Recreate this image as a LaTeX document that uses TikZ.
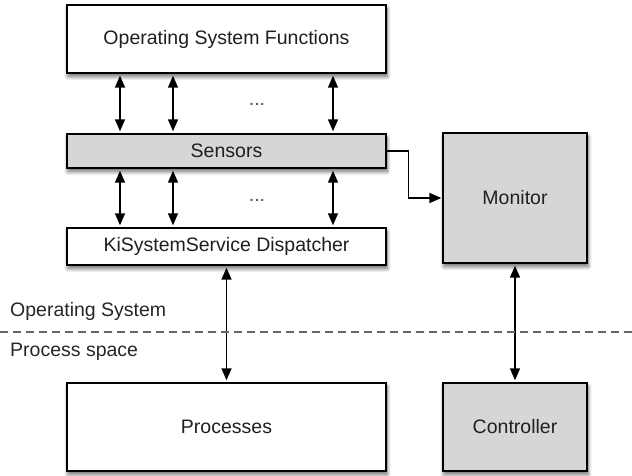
\documentclass[tikz,border=0pt]{standalone}
\usepackage{fontspec}
\setmainfont{Liberation Sans}
\usetikzlibrary{arrows.meta,shadows.blur}
\definecolor{boxgray}{HTML}{D6D6D6}
\begin{document}
\begin{tikzpicture}[x=1pt,y=-1pt,
  font=\fontsize{19.5}{23}\selectfont,
  box/.style={draw=black, line width=1.4pt, fill=white, inner sep=0pt, text=black!88,
    blur shadow={shadow xshift=1pt, shadow yshift=-3.5pt, shadow blur steps=8, shadow opacity=60, shadow blur radius=4pt}},
  graybox/.style={box, fill=boxgray},
  tip/.style={Triangle[length=12pt,width=10pt]},
  conn/.style={line width=1.5pt, -{Triangle[length=12pt,width=10pt]}},
  biconn/.style={line width=1.5pt, {Triangle[length=12pt,width=10pt]}-{Triangle[length=12pt,width=10pt]}, shorten <=2pt, shorten >=2pt},
  lbl/.style={anchor=west, inner sep=0pt, text=black!85}
]
\useasboundingbox (0,0) rectangle (632,476);

\node[box, minimum width=319pt, minimum height=68pt] (osf) at (226.5,39) {Operating System Functions};
\node[graybox, minimum width=319pt, minimum height=34pt] (sens) at (226.5,151) {Sensors};
\node[box, minimum width=319pt, minimum height=37pt] (disp) at (226.5,246.5) {KiSystemService Dispatcher};
\node[graybox, minimum width=144pt, minimum height=130pt] (mon) at (515,198) {Monitor};
\node[graybox, minimum width=144pt, minimum height=88pt] (ctrl) at (515,427) {Controller};
\node[box, minimum width=319pt, minimum height=88pt] (proc) at (226.5,427) {Processes};

\node[text=black!70, inner sep=0pt] (dots1) at (257,104) {...};
\node[text=black!70, inner sep=0pt] (dots2) at (257,200) {...};

\foreach \xx in {120,173,333} {
  \draw[biconn] (osf.south -| \xx,0) -- (sens.north -| \xx,0);
  \draw[biconn] (sens.south -| \xx,0) -- (disp.north -| \xx,0);
}

\draw[conn, shorten >=1pt] (sens.east) -- ++(22,0) |- (mon.west);
\draw[biconn] (mon.south) -- (ctrl.north);
\draw[biconn] (disp.south) -- (proc.north);

\coordinate (dl) at (0,332);
\coordinate (dr) at (632,332);
\draw[black!60, line width=1.4pt, dash pattern=on 8pt off 5pt] (dl) -- (dr);

\node[lbl] (os) at (10,311) {Operating System};
\node[lbl] (ps) at (10,352) {Process space};
\end{tikzpicture}
\end{document}
